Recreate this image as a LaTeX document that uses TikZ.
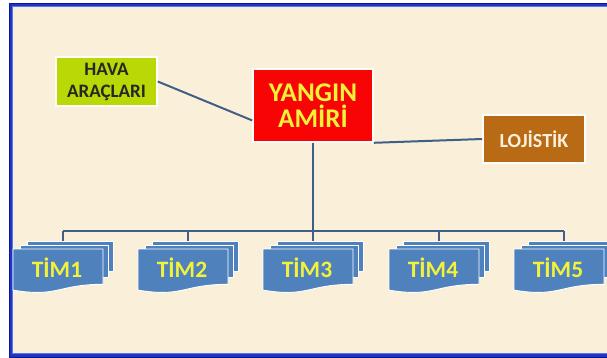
\documentclass[tikz,border=0pt]{standalone}
\usepackage{fontspec}
\setmainfont{Carlito}
\usetikzlibrary{calc,shadows}

\definecolor{paper}{HTML}{FAF0DA}
\definecolor{frameblue}{HTML}{1F36C4}
\definecolor{framedark}{HTML}{0B1690}
\definecolor{framelight}{HTML}{5A78E6}
\definecolor{linkblue}{HTML}{3F5F86}
\definecolor{limegreen}{HTML}{B9D805}
\definecolor{chiefred}{HTML}{F80404}
\definecolor{brownbox}{HTML}{B86A14}
\definecolor{docblue}{HTML}{4F81BD}
\definecolor{labelyellow}{HTML}{F2F23A}
\definecolor{cream}{HTML}{FAF0DC}

\tikzset{
  box/.style={draw=white!85!paper, line width=1.6pt, align=center,
    inner sep=0pt, font=\bfseries,
    drop shadow={opacity=0.35, shadow xshift=1.2pt, shadow yshift=-1.2pt}},
  conn/.style={draw=linkblue, line width=2pt},
  page/.style={fill=docblue, draw=white, line width=0.9pt},
  timtext/.style={text=labelyellow, font=\bfseries\fontsize{23.5}{25}\selectfont,
    inner sep=0pt},
  multidoc/.pic={
    \path[page] (-36,0) rectangle (50,30);
    \path[page] (-43,4) rectangle (45,36);
    \path[page] (-50,8) -- (40,8) -- (40,43.3)
      .. controls (-5,43.3) and (-5,56.7) .. (-50,49.1) -- cycle;
  }
}

\begin{document}
\begin{tikzpicture}[x=1pt,y=-1pt]
\useasboundingbox (0,0) rectangle (607,358);
\fill[white] (0,0) rectangle (607,358);

% blue frame and paper
\fill[framedark] (9,3) rectangle (607,358);
\fill[frameblue] (10,4) rectangle (607,357);
\fill[framelight] (12,6) rectangle (607,354);
\fill[paper] (13,7) rectangle (607,353);

% upper boxes
\node[box, fill=limegreen, text=black!85,
      minimum width=101pt, minimum height=49pt,
      font=\bfseries\fontsize{19}{22}\selectfont] (hava) at (106.5,81.5) {HAVA\\ARAÇLARI};
\node[box, fill=chiefred, text=labelyellow,
      minimum width=120pt, minimum height=73pt,
      font=\bfseries\fontsize{27}{26}\selectfont] (yangin) at (313,105.5) {YANGIN\\AMİRİ};
\node[box, fill=brownbox, text=cream,
      minimum width=102pt, minimum height=48pt,
      font=\bfseries\fontsize{20}{22}\selectfont] (loj) at (534,139) {LOJİSTİK};

% team groups
\foreach \i/\cx in {1/63,2/188,3/313,4/439,5/564}{
  \pic at (\cx,241) {multidoc};
  \coordinate (top\i) at (\cx,241);
  \node[timtext] (tim\i) at (\cx-6,268) {TİM\i};
}

% connectors
\coordinate (bus) at (313,231);
\draw[conn] (hava.east) -- ($(yangin.south west)!0.3!(yangin.north west)$);
\draw[conn] (yangin.south east) -- (loj.west);
\draw[conn] (yangin.south) -- (bus);
\draw[conn] (top1 |- bus) -- (top5 |- bus);
\foreach \i in {1,...,5}{
  \draw[conn] (top\i |- bus) -- (top\i);
}
\end{tikzpicture}
\end{document}
